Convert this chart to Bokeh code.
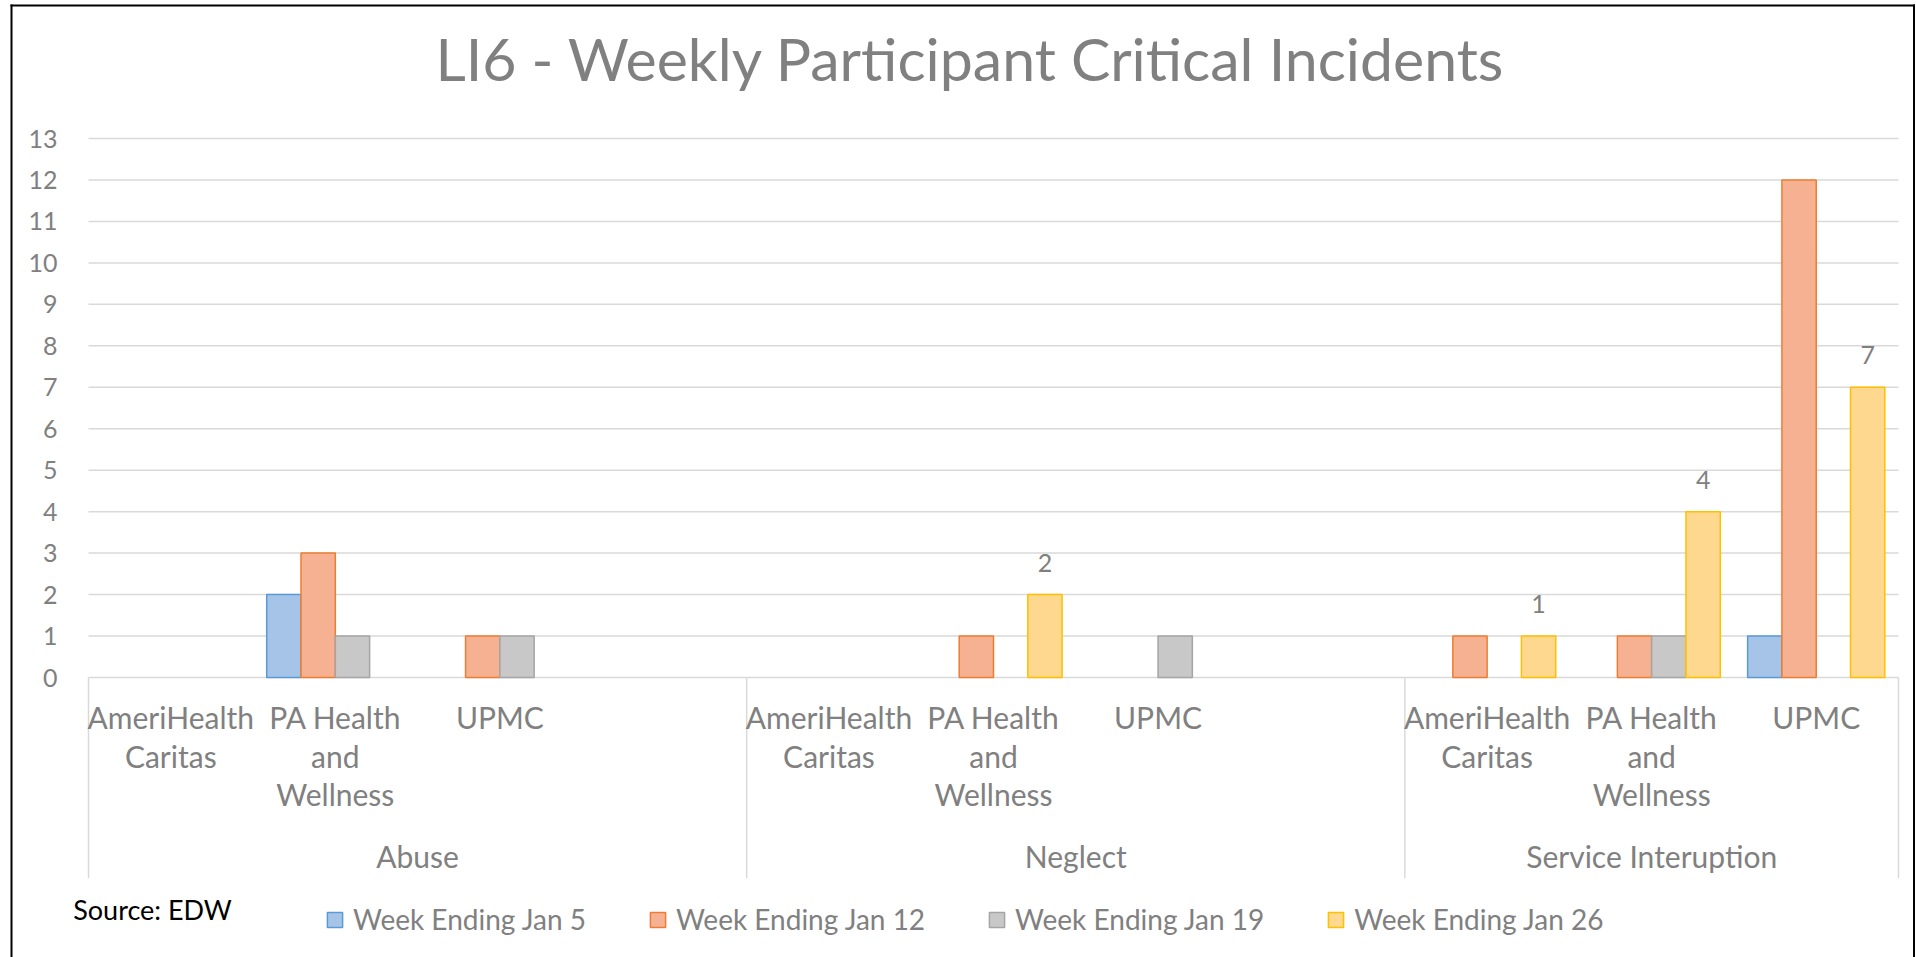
from bokeh.plotting import figure
from bokeh.models import Range1d, FixedTicker, Legend, LegendItem
from bokeh.core.properties import value
from bokeh.embed import file_html
from bokeh.resources import INLINE

# ---------------- data ----------------
title_text = "LI6 - Weekly Participant Critical Incidents"
source_note = "Source: EDW"
groups = ["Abuse", "Neglect", "Service Interuption"]
group_slots = [4, 4, 3]          # category slots per group (4th slot is an empty category)
plan_labels = ["AmeriHealth\nCaritas", "PA Health\nand\nWellness", "UPMC"]
series_names = ["Week Ending Jan 5", "Week Ending Jan 12", "Week Ending Jan 19", "Week Ending Jan 26"]
# one value per category slot (None = no bar)
jan5 = [None, 2, None, None, None, None, None, None, None, None, 1]
jan12 = [None, 3, 1, None, None, 1, None, None, 1, 1, 12]
jan19 = [None, 1, 1, None, None, None, 1, None, None, 1, None]
jan26 = [None, None, None, None, None, 2, None, None, 1, 4, 7]
y_ticks = [0, 1, 2, 3, 4, 5, 6, 7, 8, 9, 10, 11, 12, 13]
y_tick_labels = ["0", "1", "2", "3", "4", "5", "6", "7", "8", "9", "10", "11", "12", "13"]

series_values = [jan5, jan12, jan19, jan26]
fill_colors = ["#a6c4e8", "#f5b192", "#c8c8c8", "#fed88f"]
line_colors = ["#5b9bd5", "#ed7d31", "#a5a5a5", "#ffc000"]
labelled_series = 3   # data labels shown on the last series
GRAY = "#808080"
FONT = "Lato"

# ---------------- layout (canvas pixels) ----------------
W, H = 1916, 957
PLOT_L, PLOT_R = 88, 1898        # canvas x of first and last category edge
Y0, YTOP = 677, 138              # canvas y of value 0 and of the top tick
n_slots = sum(group_slots)
xs = (PLOT_R - PLOT_L) / n_slots
ys = (Y0 - YTOP) / (y_ticks[-1] - y_ticks[0])


def vx(cx):
    return (cx - PLOT_L) / xs


def vy(cy):
    return (Y0 - cy) / ys


bar_w = 34.3 / xs

p = figure(width=W, height=H, output_backend="svg", toolbar_location=None,
           x_range=Range1d(vx(0), vx(W)), y_range=Range1d(vy(H), vy(0)),
           x_axis_location=None, y_axis_location="left",
           min_border=0, min_border_left=0, min_border_right=0,
           min_border_top=0, min_border_bottom=0)
p.grid.visible = False
p.outline_line_color = None
p.background_fill_color = "white"
p.border_fill_color = "white"

ax = p.yaxis[0]
ax.fixed_location = vx(64)
ax.ticker = FixedTicker(ticks=y_ticks)
ax.major_label_overrides = {t: s for t, s in zip(y_ticks, y_tick_labels)}
ax.axis_line_color = None
ax.major_tick_line_color = None
ax.minor_tick_line_color = None
ax.major_tick_out = 0
ax.major_tick_in = 0
ax.major_label_standoff = 7
ax.major_label_text_font = FONT
ax.major_label_text_font_size = "25px"
ax.major_label_text_color = GRAY

# gridlines (value axis ticks), spanning the category area only
p.segment(x0=[0] * len(y_ticks), x1=[n_slots] * len(y_ticks), y0=y_ticks, y1=y_ticks,
          line_color="#d9d9d9", line_width=1.5)

# group separators below the baseline
bounds = [0]
for s in group_slots:
    bounds.append(bounds[-1] + s)
p.segment(x0=bounds, x1=bounds, y0=[0] * len(bounds), y1=[vy(877.7)] * len(bounds),
          line_color="#d9d9d9", line_width=1.5)

# bars
renderers = []
for k, vals in enumerate(series_values):
    xs_k = [i + 0.5 + (k - 1.5) * bar_w for i, v in enumerate(vals) if v is not None]
    tops = [v for v in vals if v is not None]
    r = p.vbar(x=xs_k, top=tops, bottom=0, width=bar_w,
               fill_color=fill_colors[k], line_color=line_colors[k], line_width=1.5)
    renderers.append(r)

# data labels
lv = series_values[labelled_series]
p.text(x=[i + 0.5 + (labelled_series - 1.5) * bar_w for i, v in enumerate(lv) if v is not None],
       y=[v + 32 / ys for v in lv if v is not None],
       text=[str(v) for v in lv if v is not None],
       text_font=value(FONT), text_font_size="25px", text_color=GRAY,
       text_align="center", text_baseline="alphabetic")

# category labels (multi-line) and group labels
cx, cy, ct = [], [], []
gx, gy, gt = [], [], []
slot = 0
for g, n in zip(groups, group_slots):
    gx.append(slot + n / 2)
    gy.append(vy(855))
    gt.append(g)
    for j in range(n):
        lab = plan_labels[j] if j < len(plan_labels) else ""
        for li, line in enumerate(lab.split("\n")):
            if line:
                cx.append(slot + j + 0.5)
                cy.append(vy(716.5 + 38.5 * li))
                ct.append(line)
    slot += n
p.text(x=cx, y=cy, text=ct, text_font=value(FONT), text_font_size="30px",
       text_color=GRAY, text_align="center", text_baseline="alphabetic")
p.text(x=gx, y=gy, text=gt, text_font=value(FONT), text_font_size="30px",
       text_color=GRAY, text_align="center", text_baseline="alphabetic")

# title
p.text(x=[vx(970)], y=[vy(58)], text=[title_text], text_font=value(FONT),
       text_font_size="59px", text_color=GRAY, text_align="center",
       text_baseline="alphabetic")

# source note
p.text(x=[vx(72.7)], y=[vy(909)], text=[source_note], text_font=value(FONT),
       text_font_size="27px", text_color="black", text_align="left",
       text_baseline="alphabetic")

# chart border (left, top, right)
p.segment(x0=[vx(11), vx(10), vx(1913.5)], x1=[vx(11), vx(1914.5), vx(1913.5)],
          y0=[vy(4), vy(5), vy(4)], y1=[vy(H), vy(5), vy(H)],
          line_color="black", line_width=2)

legend = Legend(items=[LegendItem(label=n, renderers=[r]) for n, r in zip(series_names, renderers)],
                orientation="horizontal", location=(325, 21),
                padding=0, margin=0, spacing=62, label_standoff=9,
                glyph_width=19, glyph_height=19, label_height=19,
                label_text_font=FONT, label_text_font_size="28px",
                label_text_color=GRAY, border_line_color=None,
                background_fill_alpha=0)
p.add_layout(legend)

open("out.html", "w").write(file_html(p, INLINE, title="LI6 - Weekly Participant Critical Incidents"))
